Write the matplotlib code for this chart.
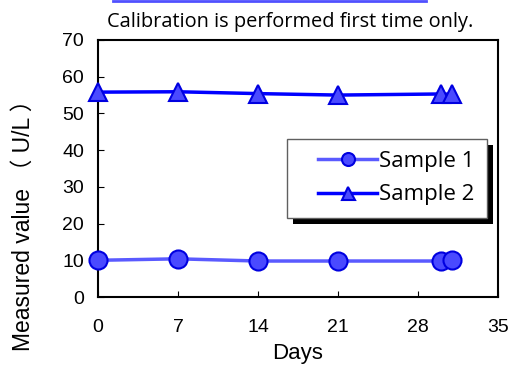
import matplotlib
matplotlib.use("Agg")
import matplotlib.pyplot as plt
from matplotlib.lines import Line2D
from matplotlib.patches import Rectangle
from matplotlib.legend_handler import HandlerLine2D

days1 = [0, 7, 14, 21, 30, 31]
sample1 = [10.0, 10.4, 9.8, 9.8, 9.8, 10.1]
days2 = [0, 7, 14, 21, 30, 31]
sample2 = [55.8, 55.9, 55.4, 55.0, 55.3, 55.2]
xticks = [0, 7, 14, 21, 28, 35]
yticks = [0, 10, 20, 30, 40, 50, 60, 70]

plt.rcParams['font.family'] = ['Liberation Sans', 'Noto Sans CJK JP', 'DejaVu Sans']

fig = plt.figure(figsize=(5.12, 3.65), dpi=100)
ax = fig.add_axes([98/512, 1 - 297/365, 400/512, 257/365])

l1, = ax.plot(days1, sample1, color='#5a5aff', lw=2.5, marker='o', ms=13,
              mfc='#4a4aff', mec='#0000e0', mew=1.5, label='Sample 1', zorder=3, clip_on=False)
l2, = ax.plot(days2, sample2, color='#0000ff', lw=2.5, marker='^', ms=13,
              mfc='#4a4aff', mec='#0000e0', mew=1.5, label='Sample 2', zorder=3, clip_on=False)

ax.set_xlim(0, 35)
ax.set_ylim(0, 70)
ax.set_xticks(xticks)
ax.set_yticks(yticks)
ax.tick_params(direction='in', length=4, width=0.8, labelsize=14, colors='#000000')
ax.tick_params(axis='x', pad=16)
ax.tick_params(axis='y', pad=10)
for s in ax.spines.values():
    s.set_linewidth(1.5)
    s.set_color('black')

fig.text(298/512, 1 - 353/365, 'Days', ha='center', va='center', fontsize=16)
fig.text(23/512, 1 - 220/365, 'Measured value （ U/L ）', ha='center', va='center',
         rotation=90, fontsize=16.5, family=['Liberation Sans', 'Noto Sans CJK JP'])

fig.text(290/512, 1 - 22/365, 'Calibration is performed first time only.',
         ha='center', va='center', fontsize=14.4, family=['Open Sans', 'DejaVu Sans'])
fig.add_artist(Line2D([113/512, 426/512], [1 - 0.5/365, 1 - 0.5/365],
                      color='#5050ff', lw=2, transform=fig.transFigure))

leg = ax.legend(loc='upper left', bbox_to_anchor=((287-98)/400, (297-139)/257),
                prop={'family': ['Open Sans'], 'size': 16}, frameon=True, fancybox=False,
                shadow=False, handlelength=3.5, handletextpad=0.1, borderpad=0.55,
                labelspacing=0.55, borderaxespad=0, framealpha=1, markerscale=0.72,
                handler_map={l1: HandlerLine2D(xpad=0.86), l2: HandlerLine2D(xpad=0.86)})
leg.set_zorder(5)
fr = leg.get_frame()
fr.set_edgecolor('#606060')
fr.set_facecolor('white')
fr.set_linewidth(1.0)

fig.canvas.draw()
bb = leg.get_window_extent().transformed(ax.transAxes.inverted())
dx = 6 / 400
dy = 6 / 257
ax.add_patch(Rectangle((bb.x0 + dx, bb.y0 - dy), bb.width, bb.height, transform=ax.transAxes,
                       facecolor='black', edgecolor='none', zorder=4.5, clip_on=False))

fig.savefig('out.png', dpi=100)
